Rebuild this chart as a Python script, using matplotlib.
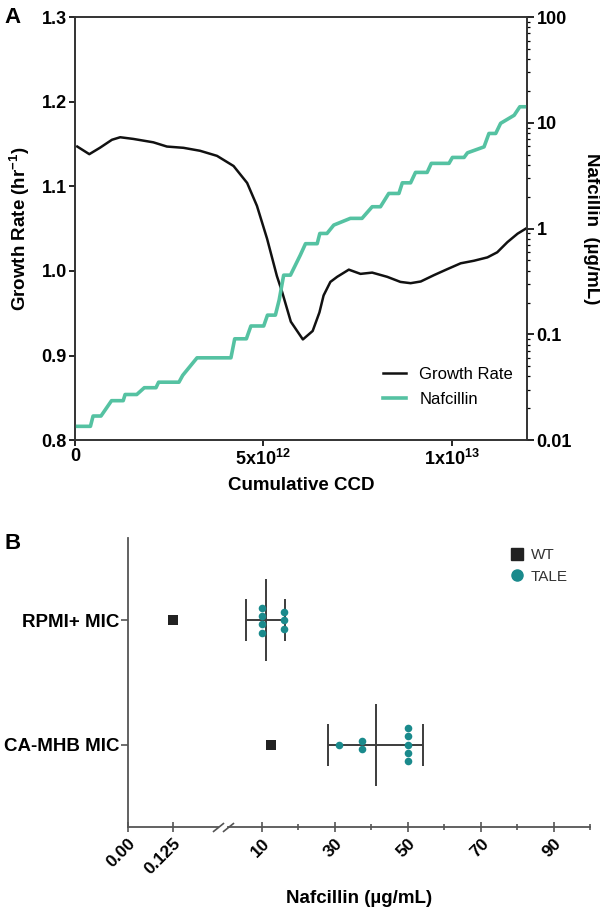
import numpy as np
import matplotlib
matplotlib.use("Agg")
import matplotlib.pyplot as plt
from matplotlib.lines import Line2D
from matplotlib.ticker import NullFormatter

plt.rcParams['font.family'] = ['Liberation Sans', 'DejaVu Sans']
plt.rcParams['mathtext.fontset'] = 'custom'
plt.rcParams['mathtext.rm'] = 'Liberation Sans'
plt.rcParams['mathtext.bf'] = 'Liberation Sans:bold'

# ---- Panel A data (x in units of 1e12 CCD) ----
growth_x = [0.06, 0.38, 0.66, 0.98, 1.2, 1.55, 2.08, 2.44, 2.88, 3.32, 3.77,
            4.21, 4.57, 4.83, 5.10, 5.36, 5.50, 5.73, 6.05, 6.31, 6.49, 6.60,
            6.78, 6.96, 7.27, 7.58, 7.89, 8.29, 8.64, 8.91, 9.18, 9.53, 9.88,
            10.24, 10.59, 10.95, 11.21, 11.48, 11.75, 11.97]
growth_rate = [1.147, 1.138, 1.1455, 1.155, 1.158, 1.156, 1.152, 1.147, 1.1455,
               1.142, 1.136, 1.124, 1.104, 1.077, 1.038, 0.994, 0.975, 0.940,
               0.919, 0.929, 0.951, 0.971, 0.987, 0.993, 1.0015, 0.9965, 0.998,
               0.993, 0.987, 0.9855, 0.9875, 0.995, 1.002, 1.009, 1.012, 1.016,
               1.022, 1.034, 1.044, 1.050]

naf_x = [0.05, 0.41, 0.48, 0.69, 0.97, 1.28, 1.33, 1.64, 1.84, 2.15, 2.22, 2.76,
         2.86, 3.24, 4.14, 4.24, 4.55, 4.67, 5.01, 5.11, 5.32, 5.42, 5.54, 5.72,
         5.98, 6.12, 6.43, 6.50, 6.69, 6.87, 7.31, 7.62, 7.89, 8.11, 8.33, 8.60,
         8.69, 8.91, 9.04, 9.35, 9.46, 9.93, 10.02, 10.33, 10.42, 10.86, 10.99,
         11.17, 11.30, 11.66, 11.81, 11.97]
naf_conc = [0.0135, 0.0135, 0.0169, 0.0169, 0.0236, 0.0236, 0.027, 0.027, 0.0313,
            0.0313, 0.0353, 0.0353, 0.041, 0.060, 0.060, 0.0908, 0.0908, 0.12,
            0.12, 0.152, 0.152, 0.211, 0.363, 0.363, 0.56, 0.72, 0.72, 0.90, 0.90,
            1.08, 1.25, 1.25, 1.61, 1.61, 2.15, 2.15, 2.71, 2.71, 3.40, 3.40,
            4.14, 4.14, 4.71, 4.71, 5.21, 5.93, 7.94, 7.94, 9.9, 11.8, 14.2, 14.2]

# ---- Panel B data ----
media = ['RPMI+ MIC', 'CA-MHB MIC']
media_pos = [1, 0]
wt_mic = [0.125, 12.5]
tale_mic = [[10, 10, 10, 10, 16, 16, 16],
            [31.25, 37.5, 37.5, 50, 50, 50, 50, 50]]
tale_mean = [11.0, 41.2]
tale_sd = [5.3, 13.0]

teal_a = '#55c2a2'
teal_b = '#1a8a8c'
grey = '#3c3c3c'

fig = plt.figure(figsize=(6, 9.15), dpi=100)

# ================= Panel A =================
ax = fig.add_axes([0.125, 0.519, 0.7533, 0.4623])
ax2 = ax.twinx()

gl, = ax.plot(np.array(growth_x) * 1e12, growth_rate, color='#111111', lw=1.8,
              label='Growth Rate')
nl, = ax2.plot(np.array(naf_x) * 1e12, naf_conc, color=teal_a, lw=2.6,
               label='Nafcillin')

ax.set_xlim(0, 1.2e13)
ax.set_ylim(0.8, 1.3)
ax2.set_yscale('log')
ax2.set_ylim(0.01, 100)

ax.set_xticks([0, 5e12, 1e13],
              ['0', r'5x10$^{\mathbf{12}}$', r'1x10$^{\mathbf{13}}$'],
              fontweight='bold', fontsize=13)
ax.set_yticks([0.8, 0.9, 1.0, 1.1, 1.2, 1.3],
              ['0.8', '0.9', '1.0', '1.1', '1.2', '1.3'],
              fontweight='bold', fontsize=13)
ax2.set_yticks([0.01, 0.1, 1, 10, 100], ['0.01', '0.1', '1', '10', '100'],
               fontweight='bold', fontsize=13)
ax2.yaxis.set_minor_formatter(NullFormatter())

for a in (ax, ax2):
    for s in a.spines.values():
        s.set_color('#333333')
        s.set_linewidth(1.2)
ax.tick_params(direction='out', length=4, width=1.2, pad=2)
ax2.tick_params(which='major', direction='out', length=5, width=1.2, pad=2)
ax2.tick_params(which='minor', direction='out', length=2.5, width=0.9)

ax.set_xlabel('Cumulative CCD', fontsize=13.5, fontweight='bold', labelpad=6)
ax.set_ylabel(r'Growth Rate (hr$^{\mathbf{-1}}$)', fontsize=13.5,
              fontweight='bold', labelpad=7)
ax2.set_ylabel('Nafcillin  (µg/mL)', fontsize=13.5, fontweight='bold',
               rotation=270, va='bottom', labelpad=8)

ax2.legend([gl, nl], ['Growth Rate', 'Nafcillin'], loc='upper left',
           bbox_to_anchor=(0.681, 0.173), frameon=False, fontsize=12,
           handlelength=1.4, handletextpad=0.8, labelspacing=0.6,
           borderpad=0, borderaxespad=0)

# ================= Panel B =================
def fwd(x):
    x = np.asarray(x, dtype=float)
    return np.where(x <= 0.25, x * 360.0,
                    np.where(x < 1, 90 + (x - 0.25) / 0.75 * 11,
                             101 + (x - 1) * 3.65))


def inv(u):
    u = np.asarray(u, dtype=float)
    return np.where(u <= 90, u / 360.0,
                    np.where(u < 101, 0.25 + (u - 90) / 11 * 0.75,
                             1 + (u - 101) / 3.65))


bx = fig.add_axes([0.2133, 0.0962, 0.7708, 0.3159])
bx.set_xscale('function', functions=(fwd, inv))
bx.set_xlim(0, 100)
bx.set_ylim(-0.66, 1.66)

dot_step = 0.067
for yc, vals, m, sd in zip(media_pos, tale_mic, tale_mean, tale_sd):
    vals = np.array(vals)
    ys = np.empty(len(vals))
    for v in np.unique(vals):
        idx = np.where(vals == v)[0]
        ys[idx] = yc + (np.arange(len(idx)) - (len(idx) - 1) / 2) * dot_step
    bx.errorbar(m, yc, xerr=sd, fmt='none', ecolor=grey, elinewidth=1.4,
                capsize=14.8, capthick=1.4, zorder=2)
    bx.vlines(m, yc - 0.33, yc + 0.33, color=grey, lw=1.4, zorder=2)
    bx.scatter(vals, ys, s=30, color=teal_b, zorder=3, linewidths=0)

bx.scatter(wt_mic, media_pos, marker='s', s=48, color='#222222', zorder=3,
           linewidths=0)

for s in ('top', 'right', 'bottom'):
    bx.spines[s].set_visible(False)
bx.spines['left'].set_color('#555555')
bx.spines['left'].set_linewidth(1.3)

xt = bx.get_xaxis_transform()
bx.plot([0, 0.25], [0, 0], transform=xt, color='#555555', lw=1.3, clip_on=False)
bx.plot([0.93, 100], [0, 0], transform=xt, color='#555555', lw=1.3, clip_on=False)
bx.plot([0.25, 0.93], [0, 0], transform=xt, linestyle='none',
        marker=[(-1, -0.8), (1, 0.8)], markersize=8, mec='#555555', mew=1.2,
        clip_on=False)

bx.set_xticks([0, 0.125, 10, 30, 50, 70, 90],
              ['0.00', '0.125', '10', '30', '50', '70', '90'],
              fontweight='bold', fontsize=12.5, rotation=45, ha='right',
              rotation_mode='anchor')
bx.set_xticks([20, 40, 60, 80, 100], minor=True)
bx.tick_params(axis='x', which='major', direction='inout', length=7,
               width=1.2, color='#555555', pad=3)
bx.tick_params(axis='x', which='minor', direction='inout', length=5,
               width=1.2, color='#555555')
bx.set_yticks(media_pos, media, fontweight='bold', fontsize=13.5)
bx.tick_params(axis='y', direction='out', length=5, width=1.2,
               color='#555555', pad=1)

bx.set_xlabel('Nafcillin (µg/mL)', fontsize=13.5, fontweight='bold',
              labelpad=9)

wt_h = Line2D([], [], marker='s', color='#222222', linestyle='none',
              markersize=9)
tale_h = Line2D([], [], marker='o', color=teal_b, linestyle='none',
                markersize=8)
bx.legend([wt_h, tale_h], ['WT', 'TALE'], loc='upper left',
          bbox_to_anchor=(0.825, 0.965), frameon=False, fontsize=11,
          handlelength=1.0, handletextpad=0.4, labelspacing=0.5,
          borderpad=0, borderaxespad=0, labelcolor='#333333')

fig.text(0.008, 0.9923, 'A', fontsize=16, fontweight='bold', va='top')
fig.text(0.008, 0.4175, 'B', fontsize=16, fontweight='bold', va='top')

fig.savefig('out.png', dpi=100)
